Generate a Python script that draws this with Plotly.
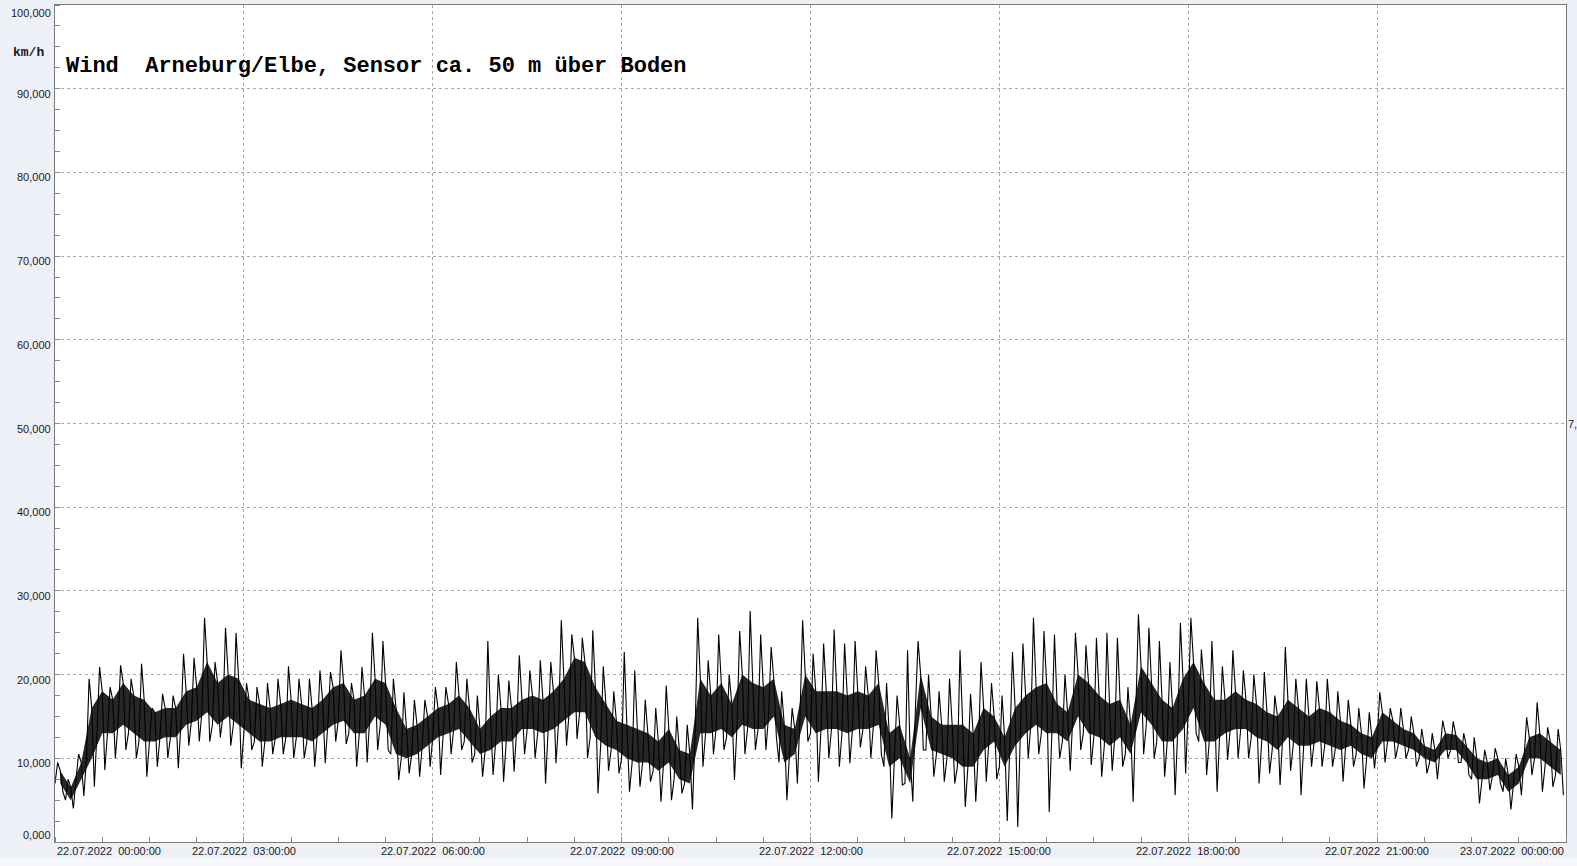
import pandas as pd
import plotly.graph_objects as go

# Wind speed (km/h), read per 10-minute bucket from 22.07.2022 00:00
# v_max: highest spike, v_hi / v_lo: upper / lower edge of dense band, v_min: lowest spike
v_max = [9.5, 7.5, 10.5, 19.5, 20.9, 18.5, 21.1, 19.5, 21.3, 16.0,
         17.7, 17.5, 22.5, 22.0, 26.8, 21.5, 25.6, 25.0, 19.0, 18.5,
         19.0, 19.5, 21.0, 19.5, 19.5, 20.5, 20.3, 22.9, 19.0, 20.9,
         25.0, 24.0, 19.5, 17.9, 17.0, 17.0, 18.5, 18.5, 21.5, 19.5,
         17.5, 24.0, 20.0, 19.3, 22.3, 20.5, 21.7, 21.5, 26.5, 24.8,
         24.4, 25.3, 21.0, 18.0, 22.7, 20.5, 17.0, 16.0, 18.7, 15.0,
         14.0, 26.8, 21.7, 24.8, 20.0, 25.2, 27.6, 24.8, 23.3, 18.0,
         16.0, 26.5, 22.5, 23.7, 25.4, 23.7, 24.0, 21.0, 22.9, 19.0,
         17.5, 22.9, 24.0, 20.0, 18.0, 19.5, 22.9, 17.7, 21.5, 19.0,
         17.5, 22.7, 23.7, 26.8, 25.2, 24.8, 20.0, 25.0, 23.5, 24.4,
         25.0, 24.4, 18.5, 27.2, 25.6, 24.0, 21.5, 26.2, 26.8, 23.0,
         24.0, 21.0, 22.9, 20.5, 20.0, 20.3, 17.5, 23.3, 19.5, 19.5,
         19.2, 19.5, 18.0, 17.0, 16.0, 15.5, 17.9, 16.0, 16.0, 15.0,
         13.5, 13.0, 14.5, 14.4, 13.0, 12.5, 11.0, 11.2, 10.0, 10.5,
         14.9, 16.7, 13.7, 13.5]
v_hi = [8.5, 6.5, 9.5, 16.0, 18.0, 17.0, 19.0, 17.5, 17.0, 15.5,
        16.0, 16.0, 18.0, 18.5, 21.5, 19.0, 20.0, 19.5, 17.0, 16.5,
        16.0, 16.5, 17.0, 16.5, 16.0, 17.0, 18.5, 19.0, 17.0, 17.5,
        19.5, 19.0, 16.0, 13.5, 14.0, 15.0, 16.0, 16.5, 17.5, 16.0,
        13.5, 15.0, 16.0, 16.0, 17.0, 17.5, 17.0, 18.0, 19.5, 22.0,
        21.5, 18.5, 16.5, 14.5, 14.0, 13.5, 13.0, 12.0, 13.5, 11.0,
        10.5, 19.5, 17.5, 19.0, 16.5, 20.0, 19.0, 18.5, 19.5, 14.0,
        13.5, 20.0, 18.0, 18.0, 18.0, 17.5, 18.0, 17.5, 19.0, 13.0,
        14.0, 10.0, 20.0, 15.0, 14.0, 14.0, 14.0, 13.0, 16.0, 15.0,
        12.5, 16.0, 17.5, 18.5, 19.0, 16.5, 15.5, 20.0, 19.0, 17.5,
        16.5, 17.0, 14.0, 21.0, 19.0, 17.0, 16.0, 19.5, 21.5, 19.0,
        17.0, 17.0, 18.0, 17.0, 16.5, 15.5, 15.0, 17.0, 16.0, 15.0,
        16.0, 15.5, 14.5, 14.0, 13.0, 12.5, 15.5, 14.5, 13.5, 13.0,
        11.5, 11.0, 13.0, 12.8, 11.5, 10.0, 9.5, 10.0, 8.0, 9.0,
        12.5, 13.0, 12.0, 11.0]
v_lo = [7.0, 5.0, 7.5, 10.0, 13.0, 13.0, 14.0, 13.0, 12.0, 12.0,
        12.5, 12.5, 14.0, 14.5, 15.5, 14.0, 15.0, 14.0, 13.0, 12.0,
        12.0, 12.5, 12.5, 12.5, 12.0, 13.0, 14.0, 14.5, 13.0, 13.0,
        15.0, 14.0, 10.5, 10.0, 10.5, 11.5, 12.5, 13.0, 13.5, 12.0,
        10.5, 11.0, 12.0, 12.0, 13.5, 13.5, 13.0, 13.5, 14.5, 15.5,
        15.5, 12.5, 11.5, 11.0, 10.0, 9.5, 9.5, 8.5, 9.5, 7.5,
        7.0, 13.0, 13.0, 13.5, 12.5, 14.0, 13.5, 13.5, 15.0, 9.5,
        10.5, 15.0, 13.0, 13.5, 13.5, 13.0, 13.5, 13.5, 14.0, 9.0,
        10.0, 7.0, 16.0, 11.0, 10.5, 10.0, 9.0, 9.0, 11.0, 12.0,
        9.0, 11.5, 13.0, 14.0, 13.0, 13.0, 12.0, 15.0, 13.0, 12.5,
        11.5, 12.5, 10.5, 15.5, 14.0, 12.0, 12.0, 13.5, 16.0, 12.0,
        12.0, 13.0, 13.5, 13.5, 12.5, 12.0, 11.0, 12.5, 11.5, 11.5,
        12.0, 11.5, 11.0, 11.5, 10.5, 10.0, 12.0, 12.0, 11.5, 11.0,
        10.0, 9.5, 11.0, 11.0, 9.5, 7.5, 7.5, 8.0, 6.0, 7.0,
        10.0, 10.0, 9.0, 8.0]
v_min = [6.0, 4.0, 5.5, 6.6, 8.6, 10.0, 11.0, 10.0, 7.8, 9.0,
         10.0, 8.8, 11.5, 12.0, 12.0, 12.5, 11.5, 8.8, 11.0, 9.0,
         10.5, 10.5, 10.0, 10.0, 9.0, 9.4, 12.0, 11.7, 9.0, 9.5,
         11.0, 11.0, 7.4, 8.2, 7.8, 9.0, 8.0, 10.5, 11.0, 9.5,
         7.8, 8.0, 7.2, 8.4, 10.5, 10.0, 7.0, 9.4, 11.5, 12.3,
         10.0, 5.8, 8.5, 8.2, 6.0, 6.6, 7.2, 4.8, 5.0, 5.8,
         3.9, 9.0, 10.5, 11.0, 7.4, 10.5, 11.0, 11.0, 12.5, 5.0,
         7.0, 12.0, 7.2, 10.0, 9.0, 9.4, 11.3, 10.0, 10.5, 2.8,
         6.8, 4.8, 11.0, 7.8, 7.2, 7.0, 4.2, 4.8, 7.2, 7.5,
         2.5, 1.8, 10.0, 10.5, 3.6, 10.0, 8.5, 11.0, 9.2, 7.8,
         8.5, 9.0, 4.8, 10.5, 10.0, 7.8, 5.6, 8.2, 13.0, 8.0,
         6.0, 9.8, 10.0, 10.0, 7.0, 8.2, 6.8, 8.5, 5.6, 9.0,
         9.0, 9.0, 7.2, 9.0, 6.4, 8.8, 9.5, 10.0, 10.0, 9.0,
         8.2, 7.5, 10.0, 9.5, 8.0, 4.6, 6.2, 7.0, 3.9, 5.6,
         8.0, 6.0, 6.6, 5.6]

y_tick_vals = [0, 10, 20, 30, 40, 50, 60, 70, 80, 90, 100]
y_tick_text = ["0,000", "10,000", "20,000", "30,000", "40,000", "50,000",
               "60,000", "70,000", "80,000", "90,000", "100,000"]
x_tick_vals = ["2022-07-22 00:00", "2022-07-22 03:00", "2022-07-22 06:00",
               "2022-07-22 09:00", "2022-07-22 12:00", "2022-07-22 15:00",
               "2022-07-22 18:00", "2022-07-22 21:00", "2022-07-23 00:00"]
x_tick_text = ["22.07.2022  00:00:00", "22.07.2022  03:00:00", "22.07.2022  06:00:00",
               "22.07.2022  09:00:00", "22.07.2022  12:00:00", "22.07.2022  15:00:00",
               "22.07.2022  18:00:00", "22.07.2022  21:00:00", "23.07.2022  00:00:00"]
title_text = "Wind\u00a0\u00a0Arneburg/Elbe, Sensor ca. 50 m über Boden"
unit_text = "km/h"

start = pd.Timestamp("2022-07-22 00:00")

# dense band (upper / lower edge per bucket, placed at bucket centre)
band_x = [start + pd.Timedelta(minutes=10 * k + 5) for k in range(len(v_hi))]

# spike line: four readings per 10-minute bucket
xs, ys = [], []
for k in range(len(v_max)):
    seq = [v_lo[k], v_max[k], v_hi[k], v_min[k]]
    for j, v in enumerate(seq):
        xs.append(start + pd.Timedelta(minutes=10 * k + 2.5 * j))
        ys.append(v)

fig = go.Figure()
fig.add_trace(go.Scatter(x=band_x, y=v_hi, mode="lines", line=dict(width=0, color="#000"),
                         hoverinfo="skip", showlegend=False))
fig.add_trace(go.Scatter(x=band_x, y=v_lo, mode="lines", line=dict(width=0, color="#000"),
                         fill="tonexty", fillcolor="rgba(0,0,0,0.85)",
                         hoverinfo="skip", showlegend=False))
fig.add_trace(go.Scatter(x=xs, y=ys, mode="lines",
                         line=dict(color="#000000", width=1.1), hoverinfo="skip",
                         showlegend=False))

grid_col = "#A8A8A8"
fig.update_xaxes(type="date", range=[x_tick_vals[0], x_tick_vals[-1]],
                 tickvals=x_tick_vals, showticklabels=False,
                 showgrid=True, gridcolor=grid_col, griddash="3px,3px", gridwidth=1,
                 ticks="", showline=True, linecolor="#7A7A7A", linewidth=1, mirror=True,
                 zeroline=False,
                 minor=dict(dtick=45 * 60 * 1000, tick0=x_tick_vals[0], ticks="inside",
                            ticklen=5, tickcolor="#8A8A8A", showgrid=False))
fig.update_yaxes(range=[0, 100], tickvals=y_tick_vals, showticklabels=False,
                 showgrid=True, gridcolor=grid_col, griddash="3px,3px", gridwidth=1,
                 ticks="", showline=True, linecolor="#7A7A7A", linewidth=1, mirror=True,
                 zeroline=False,
                 minor=dict(dtick=2.5, ticks="inside", ticklen=5, tickcolor="#8A8A8A",
                            showgrid=False))

ann = []
lab_font = dict(family="Liberation Sans, Arial", size=11, color="#1A1A1A")
for v, t in zip(y_tick_vals, y_tick_text):
    shift = -5
    if v == 0:
        shift = 7
    elif v == 100:
        shift = -8
    ann.append(dict(x=0, xref="paper", y=v, yref="y", text=t, showarrow=False,
                    xanchor="right", yanchor="middle", xshift=-2, yshift=shift,
                    font=lab_font))
for i, (v, t) in enumerate(zip(x_tick_vals, x_tick_text)):
    xa = "center"
    if i == 0:
        xa = "left"
    elif i == len(x_tick_vals) - 1:
        xa = "right"
    ann.append(dict(x=v, xref="x", y=0, yref="paper", text=t, showarrow=False,
                    xanchor=xa, yanchor="top", yshift=-1, font=lab_font))
ann.append(dict(x=0, xref="paper", y=1, yref="paper", text=title_text, showarrow=False,
                xanchor="left", yanchor="middle", xshift=9, yshift=-61,
                font=dict(family="Liberation Mono, Courier New, monospace", size=22,
                          color="#000000", weight="bold")))
ann.append(dict(x=0, xref="paper", y=1, yref="paper", text=unit_text, showarrow=False,
                xanchor="right", yanchor="middle", xshift=-9, yshift=-47,
                font=dict(family="Liberation Mono, Courier New, monospace", size=13,
                          color="#1A1A1A", weight="bold")))
ann.append(dict(x=1, xref="paper", y=50, yref="y", text="7,", showarrow=False,
                xanchor="left", yanchor="middle", xshift=0, yshift=0, font=lab_font))

fig.update_layout(
    width=1577, height=866,
    margin=dict(l=55, r=11, t=5, b=24, pad=0),
    paper_bgcolor="#EEF0F8", plot_bgcolor="#FFFFFF",
    annotations=ann,
    shapes=[dict(type="rect", xref="paper", yref="paper", x0=-0.04, x1=1.01,
                 y0=-0.0185, y1=-0.03, fillcolor="#F6F7FB", line=dict(width=0),
                 layer="below")],
)

fig.write_html("out.html", config={"displayModeBar": False},
               post_script="document.body.style.margin='0';document.body.style.background='#EEF0F8';")
